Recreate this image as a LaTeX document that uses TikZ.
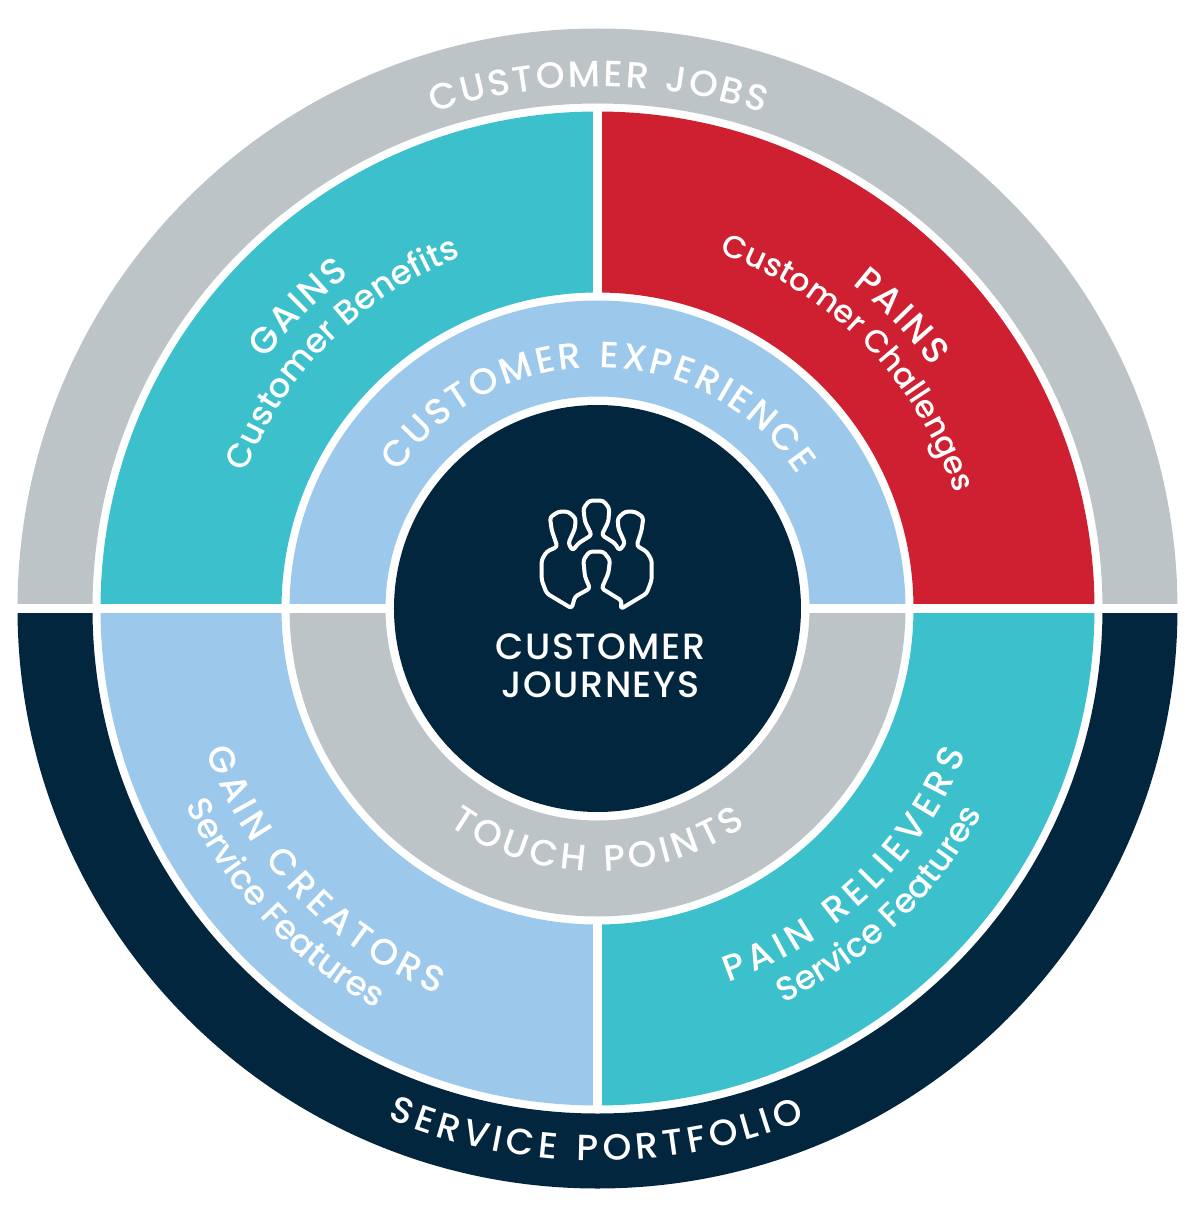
\documentclass[tikz,border=0pt]{standalone}
\usepackage{fontspec}
\usetikzlibrary{decorations.text}
\setmainfont{Poppins}
\newfontfamily\capfont[LetterSpace=4]{Poppins Medium}
\newfontfamily\subfont{Poppins Medium}
\definecolor{teal}{HTML}{3CC0CC}
\definecolor{crimson}{HTML}{CE2030}
\definecolor{sky}{HTML}{9CC9EB}
\definecolor{ash}{HTML}{BDC4C7}
\definecolor{navy}{HTML}{03263F}
\tikzset{
  gap/.style={draw=white,line width=.21cm},
  bend/.style={decorate,decoration={text along path,text align=center,text={#1}}}
}
% sector: colour, outer radius, inner radius, start angle, end angle
\newcommand{\sector}[5]{\fill[#1] (#4:#2) arc[start angle=#4,end angle=#5,radius=#2] -- (#5:#3) arc[start angle=#5,end angle=#4,radius=#3] -- cycle;}
% text over or under an arc: radius, middle angle, text
\newcommand{\overarc}[3]{\path[bend={#3}] (#2+60:#1) arc[start angle=#2+60,end angle=#2-60,radius=#1];}
\newcommand{\underarc}[3]{\path[bend={#3}] (#2-60:#1) arc[start angle=#2-60,end angle=#2+60,radius=#1];}
% letter formats: tracking in front of each letter
\newcommand{\capsfmt}[1]{\fontsize{26}{30}\capfont\color{white}\kern#1}
\newcommand{\subsfmt}[1]{\fontsize{#1}{30}\subfont\color{white}}
\begin{document}
\begin{tikzpicture}[x=.025cm,y=.025cm]
  \useasboundingbox (-597.5,-603.5) rectangle (603.5,608.5);
  \sector{ash}{580}{505}{0}{180}
  \sector{navy}{580}{505}{180}{360}
  \sector{teal}{497}{316}{90}{180}
  \sector{crimson}{497}{316}{0}{90}
  \sector{sky}{497}{316}{180}{270}
  \sector{teal}{497}{316}{270}{360}
  \sector{sky}{308}{212}{0}{180}
  \sector{ash}{308}{212}{180}{360}
  % white gaps
  \draw[gap] (-590,0) -- (-200,0);
  \draw[gap] (200,0) -- (590,0);
  \draw[gap] (0,312) -- (0,501);
  \draw[gap] (0,-312) -- (0,-501);
  \fill[navy] (0,0) circle[radius=203.5];

  \overarc{522}{90}{|\capsfmt{1.8pt}|CUSTOMER JOBS}
  \overarc{241}{90}{|\capsfmt{2pt}|CUSTOMER EXPERIENCE}
  \underarc{263}{269.5}{|\capsfmt{3.1pt}|TOUCH POINTS}
  \underarc{552}{269.6}{|\capsfmt{3.3pt}|SERVICE PORTFOLIO}
  \overarc{415}{135}{|\capsfmt{1.4pt}|GAINS}
  \overarc{377}{135}{|\subsfmt{24}|Customer Benefits}
  \overarc{412}{44}{|\capsfmt{1.8pt}|PAINS}
  \overarc{375}{44.4}{|\subsfmt{22.5}|Customer Challenges}
  \underarc{417}{223.5}{|\capsfmt{3.2pt}|GAIN CREATORS}
  \underarc{457}{223.3}{|\subsfmt{24.3}|Service Features}
  \underarc{396}{313.5}{|\capsfmt{3.8pt}|PAIN RELIEVERS}
  \underarc{436}{313.6}{|\subsfmt{24}|Service Features}

  \node[text=white,font=\fontsize{26}{27}\capfont,align=center] (journeys) at (3,-57.5) {CUSTOMER\\JOURNEYS};
  \begin{scope}[shift={(-97.5,128.5)},x=.00833cm,y=-.00833cm]
    \draw[white,line width=.1cm,rounded corners=2pt,line join=round] (215,385) -- (140,340) -- (125,300) -- (125,240) -- (140,215) -- (172,200) -- (155,150) -- (150,112) -- (175,95) -- (205,95) -- (227,115) -- (225,145) -- (205,190) -- (218,212) -- (235,190) -- (275,165) -- (255,125) -- (250,85) -- (268,62) -- (310,62) -- (328,85) -- (325,125) -- (305,165) -- (345,190) -- (358,212) -- (375,190) -- (355,145) -- (353,115) -- (375,95) -- (405,95) -- (430,112) -- (425,150) -- (410,197) -- (440,215) -- (455,240) -- (455,300) -- (440,340) -- (362,387) -- (365,362) -- (305,325) -- (325,280) -- (330,240) -- (310,215) -- (268,215) -- (250,240) -- (255,290) -- (270,325) -- (225,350) -- cycle;
  \end{scope}
\end{tikzpicture}
\end{document}
